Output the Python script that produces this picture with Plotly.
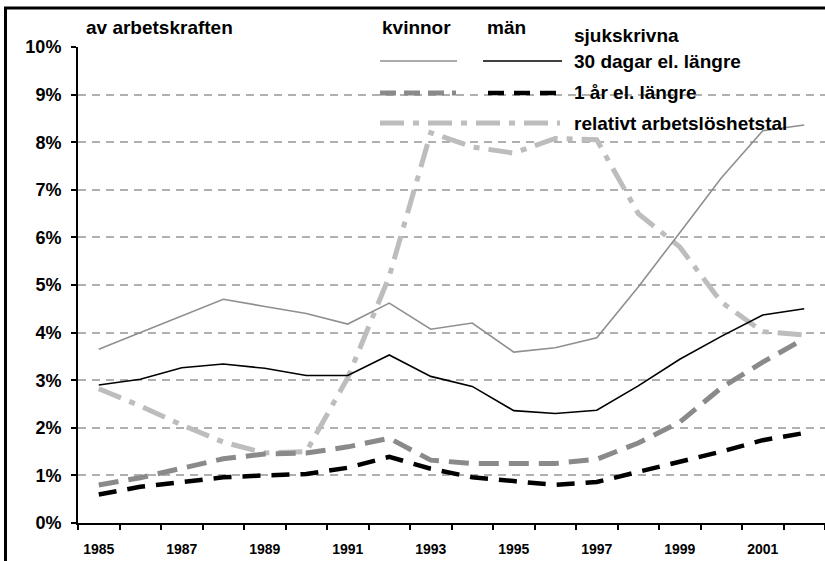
import plotly.graph_objects as go

years = list(range(1985, 2003))
kvinnor_30d = [3.65, 4.0, 4.35, 4.7, 4.55, 4.4, 4.18, 4.62, 4.07, 4.2, 3.59, 3.68, 3.89, 4.96, 6.1, 7.25, 8.24, 8.36]
man_30d = [2.9, 3.02, 3.26, 3.34, 3.25, 3.1, 3.1, 3.53, 3.08, 2.87, 2.36, 2.3, 2.37, 2.88, 3.44, 3.92, 4.37, 4.5]
kvinnor_1ar = [0.8, 0.95, 1.15, 1.35, 1.45, 1.47, 1.6, 1.78, 1.32, 1.25, 1.25, 1.25, 1.34, 1.68, 2.12, 2.84, 3.38, 3.87]
man_1ar = [0.6, 0.76, 0.86, 0.96, 1.0, 1.03, 1.16, 1.39, 1.14, 0.96, 0.88, 0.8, 0.86, 1.07, 1.28, 1.5, 1.74, 1.89]
arbetsloshet = [2.82, 2.46, 2.06, 1.7, 1.47, 1.5, 3.05, 5.18, 8.2, 7.9, 7.77, 8.08, 8.05, 6.5, 5.8, 4.64, 4.02, 3.95]
y_ticks = [0, 1, 2, 3, 4, 5, 6, 7, 8, 9, 10]
x_label_years = [1985, 1987, 1989, 1991, 1993, 1995, 1997, 1999, 2001]

FONT = "Arial, Liberation Sans, sans-serif"

def pct(v):
    return [x / 100 for x in v]

fig = go.Figure()
fig.add_trace(go.Scatter(x=years, y=pct(arbetsloshet), mode="lines",
                         line=dict(color="#bdbdbd", width=5, dash="24px,9px,6px,9px")))
fig.add_trace(go.Scatter(x=years, y=pct(kvinnor_1ar), mode="lines",
                         line=dict(color="#8a8a8a", width=5, dash="20px,10px")))
fig.add_trace(go.Scatter(x=years, y=pct(man_1ar), mode="lines",
                         line=dict(color="black", width=4.5, dash="18px,11px")))
fig.add_trace(go.Scatter(x=years, y=pct(kvinnor_30d), mode="lines",
                         line=dict(color="#8f8f8f", width=1.6)))
fig.add_trace(go.Scatter(x=years, y=pct(man_30d), mode="lines",
                         line=dict(color="black", width=1.6)))

W, H = 825, 561
L, T, R = 78, 47, 0
B = H - 523
pw, ph = W - L - R, H - T - B

def px(x):
    return (x - L) / pw

def py(y):
    return (H - B - y) / ph

shapes = [
    dict(type="rect", xref="paper", yref="paper", x0=px(5.5), x1=1.2, y0=-0.3, y1=py(8),
         line=dict(color="black", width=3), layer="below"),
    dict(type="line", xref="paper", yref="paper", x0=px(380), x1=px(457), y0=py(61), y1=py(61),
         line=dict(color="#8f8f8f", width=1.6)),
    dict(type="line", xref="paper", yref="paper", x0=px(483), x1=px(562), y0=py(61), y1=py(61),
         line=dict(color="black", width=1.6)),
    dict(type="line", xref="paper", yref="paper", x0=px(380), x1=px(456), y0=py(93), y1=py(93),
         line=dict(color="#8a8a8a", width=5, dash="16px,8px")),
    dict(type="line", xref="paper", yref="paper", x0=px(488), x1=px(558), y0=py(93), y1=py(93),
         line=dict(color="black", width=4.5, dash="16px,10px")),
    dict(type="line", xref="paper", yref="paper", x0=px(380), x1=px(560), y0=py(123), y1=py(123),
         line=dict(color="#bdbdbd", width=5, dash="24px,9px,6px,9px")),
]

def ann(text, x, y):
    return dict(text=text, xref="paper", yref="paper", x=px(x), y=py(y), xanchor="left",
                yanchor="middle", showarrow=False,
                font=dict(family=FONT, size=19, color="black", weight="bold"))

annotations = [
    ann("av arbetskraften", 84, 28),
    ann("kvinnor", 380, 28),
    ann("män", 485, 28),
    ann("sjukskrivna", 572, 35),
    ann("30 dagar el. längre", 572, 61),
    ann("1 år el. längre", 572, 92),
    ann("relativt arbetslöshetstal", 572, 123),
]

fig.update_layout(
    width=W, height=H, margin=dict(l=L, r=R, t=T, b=B, autoexpand=False),
    paper_bgcolor="white", plot_bgcolor="white", showlegend=False,
    font=dict(family=FONT, color="black"),
    shapes=shapes, annotations=annotations,
    xaxis=dict(range=[1984.5, 2002.5], tickvals=x_label_years, ticktext=[str(y) for y in x_label_years],
               ticks="", showgrid=False, showline=True, linecolor="black", linewidth=2,
               ticklabelstandoff=12, tickfont=dict(family=FONT, size=14, color="black", weight="bold"),
               minor=dict(tickvals=[y - 0.5 for y in years] + [2002.5], ticks="outside", ticklen=5,
                          tickcolor="black", tickwidth=2, showgrid=False),
               zeroline=False),
    yaxis=dict(range=[0, 0.10], tickvals=[v / 100 for v in y_ticks], tickformat=".0%",
               ticks="outside", ticklen=5, tickwidth=2, tickcolor="black",
               showline=True, linecolor="black", linewidth=2,
               showgrid=True, gridcolor="#b0b0b0", gridwidth=1.5, griddash="8px,6px",
               zeroline=False, tickfont=dict(family=FONT, size=18, color="black", weight="bold"),
               ticklabelstandoff=6),
)

fig.write_html("out.html", config={"displayModeBar": False},
               post_script="document.body.style.margin='0';document.body.style.overflow='hidden';")
